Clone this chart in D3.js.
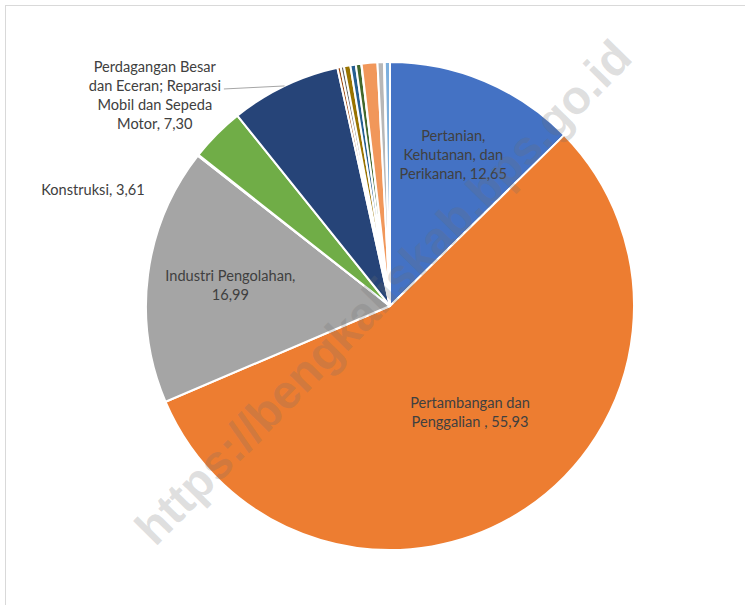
<!DOCTYPE html>
<html>
<head>
<meta charset="utf-8">
<script src="https://cdn.jsdelivr.net/npm/d3@7"></script>
<style>
  html, body { margin: 0; padding: 0; background: #fff; }
  svg { display: block; }
</style>
</head>
<body>
<svg id="chart" width="745" height="605"></svg>
<script>
// ---- Data ----
const categories = [
  "Pertanian, Kehutanan, dan Perikanan",
  "Pertambangan dan Penggalian",
  "Industri Pengolahan",
  "Pengadaan Listrik dan Gas",
  "Pengadaan Air, Pengelolaan Sampah, Limbah dan Daur Ulang",
  "Konstruksi",
  "Perdagangan Besar dan Eceran; Reparasi Mobil dan Sepeda Motor",
  "Transportasi dan Pergudangan",
  "Penyediaan Akomodasi dan Makan Minum",
  "Informasi dan Komunikasi",
  "Jasa Keuangan dan Asuransi",
  "Real Estate",
  "Jasa Perusahaan",
  "Administrasi Pemerintahan, Pertahanan dan Jaminan Sosial Wajib",
  "Jasa Pendidikan",
  "Jasa Kesehatan dan Kegiatan Sosial",
  "Jasa Lainnya"
];
const values = [12.65, 55.93, 16.99, 0.02, 0.04, 3.61, 7.30, 0.22, 0.22, 0.42, 0.36, 0.36, 0.02, 1.04, 0.43, 0.05, 0.34];
const colors = ["#4472C4", "#ED7D31", "#A5A5A5", "#FFC000", "#5B9BD5", "#70AD47", "#264478",
                "#9E480E", "#636363", "#997300", "#255E91", "#43682B", "#698ED0", "#F1975A",
                "#B7B7B7", "#FFCD33", "#7CAFDD"];
// data labels (lines) shown for selected slices, by category index
const labelIndex = [0, 1, 2, 5, 6];
const labelLines = [
  ["Pertanian,", "Kehutanan, dan", "Perikanan, 12,65"],
  ["Pertambangan dan", "Penggalian , 55,93"],
  ["Industri Pengolahan,", "16,99"],
  ["Konstruksi, 3,61"],
  ["Perdagangan Besar", "dan Eceran; Reparasi", "Mobil dan Sepeda", "Motor, 7,30"]
];
const watermark = "https://bengkaliskab.bps.go.id";

// ---- Layout ----
const W = 745, H = 605;
const cx = 390, cy = 306, R = 244;
// label placement: radius factor; optional fixed polar angle (deg) for outside labels
const labelPlace = [
  { r: 0.67 },
  { r: 0.545, angle: 143.0 },
  { r: 0.66 },
  { r: 1.307, angle: 291.3 },
  { r: 1.295, angle: 311.9, leader: true }
];
const lineH = 19;
const fontFamily = "Lato, 'Open Sans', sans-serif";

const svg = d3.select("#chart");

// frame
svg.append("rect")
  .attr("x", 5.5).attr("y", 5.5)
  .attr("width", W + 10).attr("height", H + 10)
  .attr("fill", "#fff").attr("stroke", "#D9D9D9").attr("stroke-width", 1);

const data = categories.map((c, i) => ({ cat: c, value: values[i], color: colors[i], i }));
const pie = d3.pie().value(d => d.value).sort(null);
const arcs = pie(data);
const arc = d3.arc().innerRadius(0).outerRadius(R);

const g = svg.append("g").attr("transform", `translate(${cx},${cy})`);

g.selectAll("path.slice")
  .data(arcs)
  .join("path")
  .attr("class", "slice")
  .attr("d", arc)
  .attr("fill", d => d.data.color)
  .attr("stroke", "#fff")
  .attr("stroke-width", 2)
  .attr("stroke-linejoin", "round");

// labels
const rad = a => a * Math.PI / 180;
labelIndex.forEach((ci, k) => {
  const a = arcs[ci];
  const place = labelPlace[k];
  const mid = place.angle !== undefined ? rad(place.angle) : (a.startAngle + a.endAngle) / 2;
  const rr = R * place.r;
  const lx = Math.sin(mid) * rr;
  const ly = -Math.cos(mid) * rr;
  const lines = labelLines[k];
  const t = g.append("text")
    .attr("text-anchor", "middle")
    .attr("font-family", fontFamily)
    .attr("font-size", 14.6)
    .attr("fill", "#404040");
  lines.forEach((ln, j) => {
    t.append("tspan")
      .attr("x", lx)
      .attr("y", ly + (j - (lines.length - 1) / 2) * lineH)
      .attr("dy", "0.35em")
      .text(ln);
  });
  if (place.leader) {
    // leader from right side of the second line to slice rim at mid-angle
    const tsp = t.selectAll("tspan").nodes()[1];
    const w = tsp.getComputedTextLength();
    const sx = lx + w / 2 + 3;
    const sy = ly + (1 - (lines.length - 1) / 2) * lineH + 3.5;
    const am = (a.startAngle + a.endAngle) / 2;
    const ex = Math.sin(am) * R, ey = -Math.cos(am) * R;
    g.append("line")
      .attr("x1", sx).attr("y1", sy)
      .attr("x2", ex).attr("y2", ey)
      .attr("stroke", "#A6A6A6").attr("stroke-width", 1);
  }
});

// watermark
svg.append("text")
  .attr("transform", `translate(383,292) rotate(-45.5)`)
  .attr("text-anchor", "middle")
  .attr("dy", "0.35em")
  .attr("font-family", "'Liberation Sans', Arial, sans-serif")
  .attr("font-weight", "bold")
  .attr("font-size", 47.5)
  .attr("fill", "rgba(110,110,110,0.22)")
  .text(watermark);
</script>
</body>
</html>
